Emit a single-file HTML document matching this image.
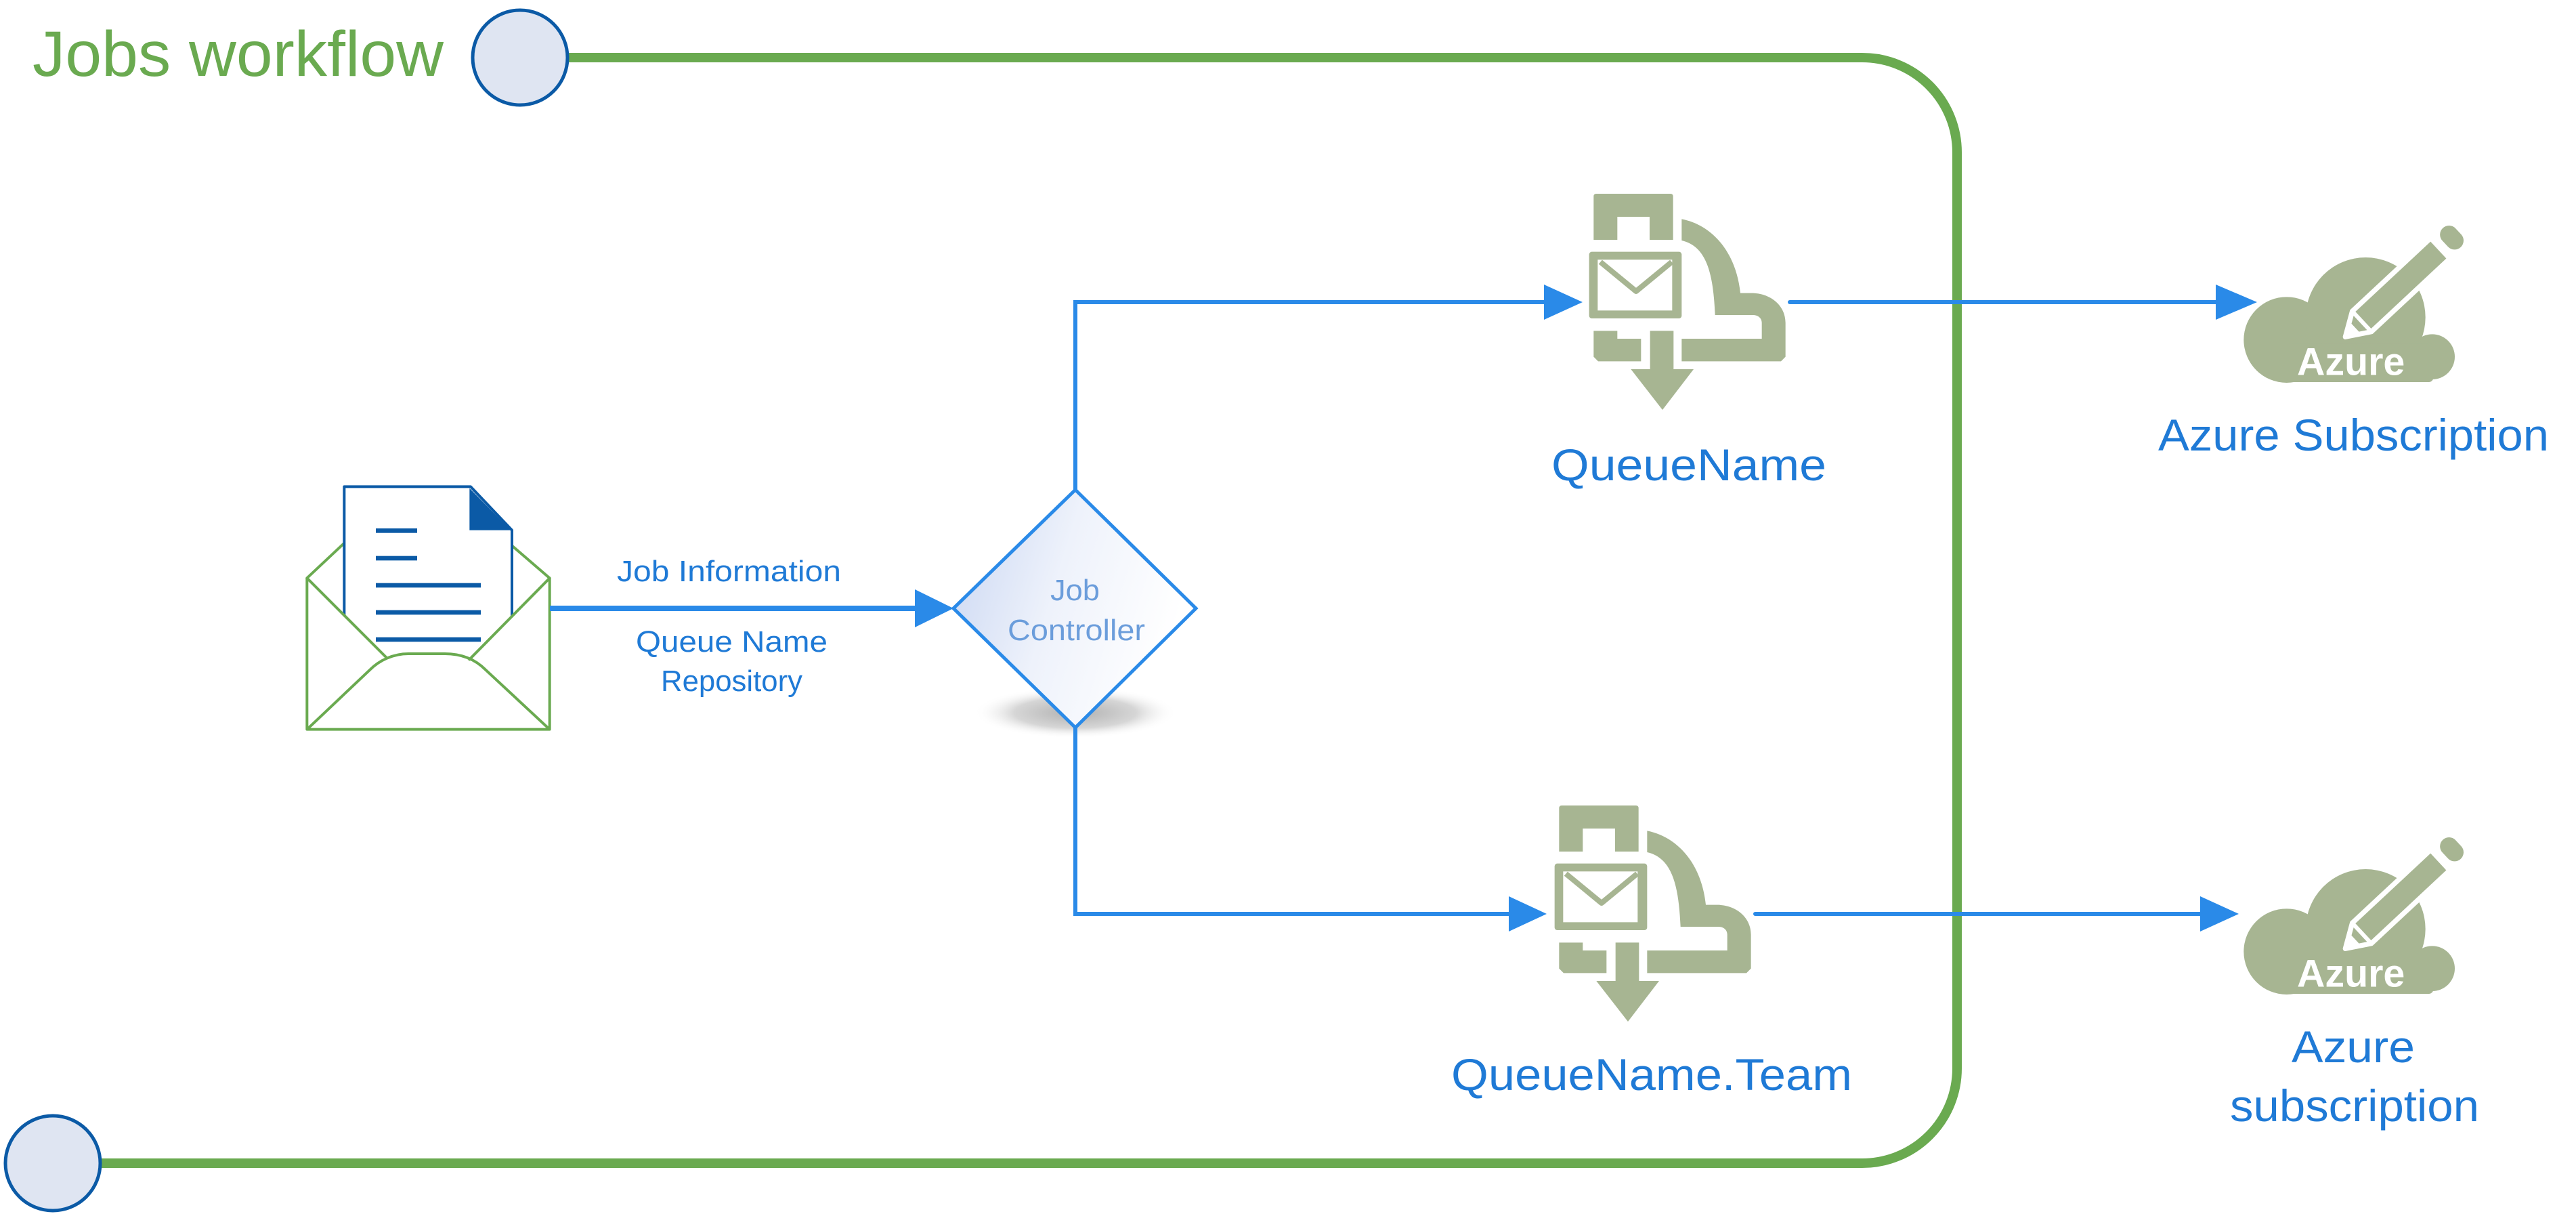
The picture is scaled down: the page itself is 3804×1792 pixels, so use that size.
<!DOCTYPE html>
<html><head><meta charset="utf-8"><style>html,body{margin:0;padding:0;background:#fff}svg{display:block}</style></head>
<body>
<svg width="3804" height="1792" viewBox="0 0 3804 1792" xmlns="http://www.w3.org/2000/svg" font-family="'Liberation Sans', sans-serif">
<defs>
<linearGradient id="dg" x1="0" y1="0" x2="1" y2="0.3">
<stop offset="0" stop-color="#c9d6f2"/><stop offset="0.5" stop-color="#eef2fb"/><stop offset="1" stop-color="#ffffff"/></linearGradient>
<radialGradient id="sh" cx="0.5" cy="0.5" r="0.5">
<stop offset="0" stop-color="#b0b0b0"/><stop offset="0.6" stop-color="#d6d6d6"/><stop offset="1" stop-color="#ffffff" stop-opacity="0"/></radialGradient>
<g id="queue">
<path d="M40,60 Q40,48 52,48 H380 Q392,48 392,60 V252 H288 V150 H145 V252 H40 Z" fill="#a7b592"/>
<rect x="20" y="305" width="410" height="295" rx="12" fill="#a7b592"/>
<rect x="58" y="340" width="330" height="225" fill="#fff"/>
<path d="M70,350 L228,480 L386,350" fill="none" stroke="#a7b592" stroke-width="24" stroke-linejoin="round"/>
<path d="M40,655 H145 V690 H250 V790 H60 L40,770 Z" fill="#a7b592"/>
<rect x="290" y="655" width="104" height="172" fill="#a7b592"/>
<path d="M205,825 H483 L345,1005 Z" fill="#a7b592"/>
<path d="M430,160 C560,185 670,300 690,488 H740 C820,488 890,540 890,620 V770 L870,790 H430 V690 H785 V620 C785,600 770,585 745,585 H578 C570,400 540,280 430,255 Z" fill="#a7b592"/>
</g>
<g id="azure">
<circle cx="230" cy="545" r="190" fill="#a7b592"/>
<circle cx="580" cy="445" r="265" fill="#a7b592"/>
<circle cx="875" cy="620" r="100" fill="#a7b592"/>
<rect x="230" y="560" width="650" height="172" rx="20" fill="#a7b592"/>
<g transform="translate(490,532) rotate(-43)">
<path d="M0,0 L100,-62 H575 V62 H100 Z" fill="#a7b592" stroke="#fff" stroke-width="22" stroke-linejoin="round"/>
<path d="M10,0 L60,-28 V28 Z" fill="#fff"/>
<line x1="100" y1="-55" x2="100" y2="55" stroke="#fff" stroke-width="18"/>
<rect x="605" y="-58" width="80" height="116" rx="40" fill="#a7b592"/>
</g>
<text x="515" y="700" text-anchor="middle" font-weight="bold" font-size="172" fill="#fff">Azure</text>
</g>
</defs>

<path d="M838,85 H2750 A140,140 0 0 1 2890,225 V1577 A140,140 0 0 1 2750,1717 H148" fill="none" stroke="#6aaa50" stroke-width="14"/>
<circle cx="768" cy="85" r="70" fill="#dfe5f2" stroke="#0b5aa6" stroke-width="5"/>
<circle cx="78" cy="1717" r="70" fill="#dfe5f2" stroke="#0b5aa6" stroke-width="5"/>
<text x="48" y="112" font-size="95" fill="#6aaa50" textLength="607" lengthAdjust="spacingAndGlyphs">Jobs workflow</text>

<g transform="translate(440,700) scale(0.33333)">
<line x1="40" y1="460" x2="205" y2="305" stroke="#6aaa50" stroke-width="12"/>
<line x1="1115" y1="460" x2="950" y2="318" stroke="#6aaa50" stroke-width="12"/>
<path d="M205,55 H765 L948,248 V830 H205 Z" fill="#fff" stroke="#0b5aa6" stroke-width="12" stroke-linejoin="round"/>
<path d="M760,62 V248 H942 Z" fill="#0b5aa6"/>
<g fill="#0b5aa6"><rect x="345" y="240" width="183" height="20"/><rect x="345" y="362" width="183" height="20"/><rect x="345" y="482" width="465" height="20"/><rect x="345" y="602" width="465" height="20"/><rect x="345" y="722" width="465" height="20"/></g>
<path d="M40,460 L390,810 L490,795 H650 L760,820 L1115,460 V1130 H40 Z" fill="#fff"/>
<path d="M40,460 V1130 H1115 V460" fill="none" stroke="#6aaa50" stroke-width="12" stroke-linejoin="round"/>
<path d="M40,460 L390,810 M1115,460 L760,820" stroke="#6aaa50" stroke-width="12" stroke-linecap="round"/>
<path d="M40,1130 L320,865 C360,825 420,795 490,795 H650 C720,795 780,815 830,865 L1115,1130" fill="none" stroke="#6aaa50" stroke-width="12"/>
</g>

<line x1="812" y1="898" x2="1355" y2="898" stroke="#2a8ae8" stroke-width="8"/>
<path d="M1351,870 L1408,898 L1351,926 Z" fill="#2a8ae8"/>
<g fill="#1f7ad6" font-size="44">
<text x="911" y="858" textLength="331" lengthAdjust="spacingAndGlyphs">Job Information</text>
<text x="939" y="962" textLength="283" lengthAdjust="spacingAndGlyphs">Queue Name</text>
<text x="976" y="1020" textLength="209" lengthAdjust="spacingAndGlyphs">Repository</text>
</g>

<ellipse cx="1588" cy="1052" rx="150" ry="38" fill="url(#sh)"/>
<path d="M1588,723 L1766,898 L1588,1074 L1408,898 Z" fill="url(#dg)" stroke="#2a8ae8" stroke-width="5"/>
<g fill="#6b9ddb" font-size="44">
<text x="1551" y="886" textLength="73" lengthAdjust="spacingAndGlyphs">Job</text>
<text x="1488" y="945" textLength="203" lengthAdjust="spacingAndGlyphs">Controller</text>
</g>

<path d="M1588,723 V446 H2290" fill="none" stroke="#2a8ae8" stroke-width="6"/>
<path d="M2280,420 L2337,446 L2280,472 Z" fill="#2a8ae8"/>
<path d="M1588,1074 V1349 H2235" fill="none" stroke="#2a8ae8" stroke-width="6"/>
<path d="M2228,1323 L2284,1349 L2228,1375 Z" fill="#2a8ae8"/>

<use href="#queue" transform="translate(2340,270) scale(0.33333)"/>
<use href="#queue" transform="translate(2289,1173) scale(0.33333)"/>

<line x1="2643" y1="446" x2="3280" y2="446" stroke="#2a8ae8" stroke-width="6" stroke-linecap="round"/>
<path d="M3272,420 L3333,446 L3272,472 Z" fill="#2a8ae8"/>
<line x1="2592" y1="1349" x2="3255" y2="1349" stroke="#2a8ae8" stroke-width="6" stroke-linecap="round"/>
<path d="M3249,1323 L3306,1349 L3249,1375 Z" fill="#2a8ae8"/>

<use href="#azure" transform="translate(3300,320) scale(0.33333)"/>
<use href="#azure" transform="translate(3300,1223) scale(0.33333)"/>

<g fill="#1f7ad6" font-size="66">
<text x="2291" y="709" textLength="406" lengthAdjust="spacingAndGlyphs">QueueName</text>
<text x="2143" y="1609" textLength="592" lengthAdjust="spacingAndGlyphs">QueueName.Team</text>
<text x="3187" y="665" textLength="577" lengthAdjust="spacingAndGlyphs">Azure Subscription</text>
<text x="3384" y="1568" textLength="182" lengthAdjust="spacingAndGlyphs">Azure</text>
<text x="3293" y="1655" textLength="368" lengthAdjust="spacingAndGlyphs">subscription</text>
</g>
</svg>
</body></html>
